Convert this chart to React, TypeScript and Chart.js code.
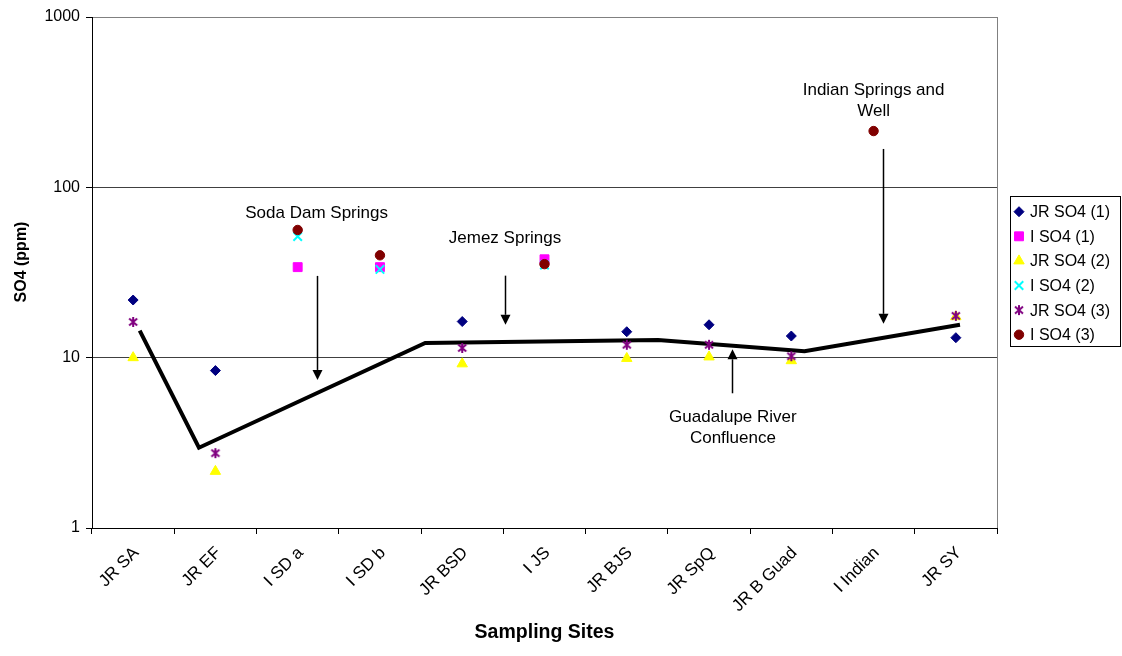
import React, { useEffect, useRef } from "react";
import { Chart, registerables } from "chart.js";
import { drawPoint } from "chart.js/helpers";

Chart.register(...registerables);

const FONT = "'Liberation Sans', Arial, Helvetica, sans-serif";

// Sampling sites along the river (category axis)
const sites = ["JR SA", "JR EF", "I SD a", "I SD b", "JR BSD", "I JS", "JR BJS", "JR SpQ", "JR B Guad", "I Indian", "JR SY"];

// SO4 concentrations (ppm), one value per site, null where not sampled
const jrSo4Run1: (number | null)[] = [21.8, 8.4, null, null, 16.3, null, 14.2, 15.6, 13.4, null, 13.1];
const iSo4Run1: (number | null)[] = [null, null, 34, 34, null, 37.8, null, null, null, null, null];
const jrSo4Run2: (number | null)[] = [10.0, 2.15, null, null, 9.2, null, 9.9, 10.1, 9.6, null, 17.4];
const iSo4Run2: (number | null)[] = [null, null, 51.4, 33, null, 35, null, null, null, null, null];
const jrSo4Run3: (number | null)[] = [16.2, 2.75, null, null, 11.4, null, 11.9, 11.9, 10.2, null, 17.6];
const iSo4Run3: (number | null)[] = [null, null, 56.2, 39.9, null, 35.4, null, null, null, 214, null];

// River trend line: position in site-index units and SO4 (ppm)
const trendSite = [0.08, 0.8, 3.55, 6.38, 8.16, 10.05];
const trendSo4 = [14.4, 2.96, 12.2, 12.7, 10.9, 15.6];

// Y axis decades
const yTicks = [1, 10, 100, 1000];

// Callout labels with arrows (x in site-index units, y in ppm)
const callouts = [
  { lines: ["Soda Dam Springs"], textX: 2.23, textY: 70.7, arrowX: 2.23, tail: 30.2, tip: 7.4 },
  { lines: ["Jemez Springs"], textX: 4.52, textY: 50.5, arrowX: 4.52, tail: 30.3, tip: 15.6 },
  { lines: ["Indian Springs and", "Well"], textX: 9.0, textY: 373, arrowX: 9.11, tail: 168, tip: 15.8 },
  { lines: ["Guadalupe River", "Confluence"], textX: 7.29, textY: 4.47, arrowX: 7.28, tail: 6.18, tip: 11.2 },
];

function makeStar(color: string): HTMLCanvasElement {
  const c = document.createElement("canvas");
  c.width = 12;
  c.height = 12;
  const g = c.getContext("2d")!;
  g.strokeStyle = color;
  g.lineWidth = 2;
  g.beginPath();
  g.moveTo(2, 2.5);
  g.lineTo(10, 9.5);
  g.moveTo(10, 2.5);
  g.lineTo(2, 9.5);
  g.moveTo(6, 1);
  g.lineTo(6, 11);
  g.stroke();
  return c;
}

type SeriesStyle = { pointStyle: any; color: string; radius: number; borderWidth: number };

function buildSeries() {
  const labels = ["JR SO4 (1)", "I SO4 (1)", "JR SO4 (2)", "I SO4 (2)", "JR SO4 (3)", "I SO4 (3)"];
  const values = [jrSo4Run1, iSo4Run1, jrSo4Run2, iSo4Run2, jrSo4Run3, iSo4Run3];
  const styles: SeriesStyle[] = [
    { pointStyle: "rectRot", color: "#000080", radius: 5, borderWidth: 1 },
    { pointStyle: "rect", color: "#FF00FF", radius: 6.3, borderWidth: 1 },
    { pointStyle: "triangle", color: "#FFFF00", radius: 6, borderWidth: 1 },
    { pointStyle: "crossRot", color: "#00FFFF", radius: 6, borderWidth: 2 },
    { pointStyle: makeStar("#800080"), color: "#800080", radius: 6, borderWidth: 2 },
    { pointStyle: "circle", color: "#800000", radius: 4.7, borderWidth: 1 },
  ];
  return labels.map((label, i) => ({ label, data: values[i], ...styles[i] }));
}

const decorations = {
  id: "decorations",
  beforeDatasetsDraw(chart: any) {
    const { ctx, chartArea: a } = chart;
    ctx.save();
    ctx.strokeStyle = "#808080";
    ctx.lineWidth = 1;
    ctx.beginPath();
    ctx.moveTo(Math.round(a.right) + 0.5, a.top);
    ctx.lineTo(Math.round(a.right) + 0.5, a.bottom);
    ctx.stroke();
    ctx.restore();
  },
  afterDraw(chart: any) {
    const { ctx, chartArea: a } = chart;
    const xs = chart.scales.xt;
    const ys = chart.scales.y;
    ctx.save();

    // callouts
    ctx.fillStyle = "#000";
    ctx.strokeStyle = "#000";
    ctx.font = `17px ${FONT}`;
    ctx.textAlign = "center";
    ctx.textBaseline = "middle";
    for (const c of callouts) {
      const tx = xs.getPixelForValue(c.textX);
      const ty = ys.getPixelForValue(c.textY);
      c.lines.forEach((ln, i) => ctx.fillText(ln, tx, ty + i * 21));
      const ax = Math.round(xs.getPixelForValue(c.arrowX)) + 0.5;
      const y0 = ys.getPixelForValue(c.tail);
      const y1 = ys.getPixelForValue(c.tip);
      const dir = Math.sign(y1 - y0);
      const head = 10;
      ctx.lineWidth = 1.5;
      ctx.beginPath();
      ctx.moveTo(ax, y0);
      ctx.lineTo(ax, y1 - dir * head);
      ctx.stroke();
      ctx.beginPath();
      ctx.moveTo(ax, y1);
      ctx.lineTo(ax - 5, y1 - dir * head);
      ctx.lineTo(ax + 5, y1 - dir * head);
      ctx.closePath();
      ctx.fill();
    }

    // axis titles
    ctx.font = `bold 16px ${FONT}`;
    ctx.save();
    ctx.translate(22, 262);
    ctx.rotate(-Math.PI / 2);
    ctx.fillText("SO4 (ppm)", 0, 0);
    ctx.restore();
    ctx.font = `bold 19.5px ${FONT}`;
    ctx.fillText("Sampling Sites", (a.left + a.right) / 2, 633);

    // legend
    const series = chart.data.datasets.filter((d: any) => d.legendItem);
    const boxX = 1010.5, boxY = 196.5, boxW = 110, boxH = 150;
    ctx.fillStyle = "#fff";
    ctx.fillRect(boxX, boxY, boxW, boxH);
    ctx.strokeStyle = "#000";
    ctx.lineWidth = 1;
    ctx.strokeRect(boxX, boxY, boxW, boxH);
    ctx.font = `16px ${FONT}`;
    ctx.textAlign = "left";
    series.forEach((d: any, i: number) => {
      const y = 211.7 + i * 24.6;
      ctx.fillStyle = d.pointBackgroundColor;
      ctx.strokeStyle = d.pointBorderColor;
      ctx.lineWidth = d.pointBorderWidth;
      drawPoint(ctx, { pointStyle: d.pointStyle, rotation: 0, radius: d.pointRadius, borderWidth: d.pointBorderWidth }, 1019, y);
      ctx.fillStyle = "#000";
      ctx.fillText(d.label, 1030, y + 1);
    });
    ctx.restore();
  },
};

export default function App() {
  const ref = useRef<HTMLCanvasElement>(null);

  useEffect(() => {
    const canvas = ref.current!;
    const series = buildSeries();
    const markerSets = series.map((s, i) => ({
      type: "line" as const,
      label: s.label,
      data: s.data,
      showLine: false,
      xAxisID: "x",
      yAxisID: "y",
      pointStyle: s.pointStyle,
      pointRadius: s.radius,
      pointBackgroundColor: s.color,
      pointBorderColor: s.color,
      pointBorderWidth: s.borderWidth,
      borderColor: s.color,
      backgroundColor: s.color,
      order: 10 - i,
      legendItem: true,
    }));
    const trendSet = {
      type: "line" as const,
      label: "trend",
      data: trendSite.map((x, i) => ({ x, y: trendSo4[i] })),
      xAxisID: "xt",
      yAxisID: "y",
      borderColor: "#000",
      borderWidth: 4,
      pointRadius: 0,
      fill: false,
      tension: 0,
      order: 30,
    };

    const chart = new Chart(canvas, {
      type: "line",
      data: { labels: sites, datasets: [...markerSets, trendSet] as any },
      options: {
        responsive: false,
        animation: false,
        devicePixelRatio: 1,
        layout: { padding: { left: 0, top: 17, right: 125, bottom: 0 } },
        plugins: { legend: { display: false }, tooltip: { enabled: false } },
        font: { family: FONT },
        scales: {
          x: {
            type: "category",
            offset: true,
            grid: { offset: true, drawOnChartArea: false, tickLength: 6, color: "#000", tickColor: "#000" },
            border: { color: "#000", width: 1 },
            ticks: {
              minRotation: 45,
              maxRotation: 45,
              autoSkip: false,
              color: "#000",
              font: { family: FONT, size: 17 },
              padding: 9,
              labelOffset: 3,
            },
            afterFit(scale: any) {
              scale.height = 128;
            },
          },
          xt: {
            type: "linear",
            display: false,
            min: -0.5,
            max: 10.5,
          },
          y: {
            type: "logarithmic",
            min: 1,
            max: 1000,
            afterBuildTicks(scale: any) {
              scale.ticks = yTicks.map((v) => ({ value: v }));
            },
            grid: {
              color: (c: any) => (c.tick && c.tick.value === 1000 ? "#808080" : "#404040"),
              tickColor: "#000",
              tickLength: 6,
              lineWidth: 1,
            },
            border: { color: "#000", width: 1 },
            ticks: {
              color: "#000",
              font: { family: FONT, size: 16 },
              padding: 6,
              callback: (v: any) => String(v),
            },
            afterFit(scale: any) {
              scale.width = 92;
            },
          },
        },
      } as any,
      plugins: [decorations],
    });
    return () => chart.destroy();
  }, []);

  return (
    <canvas
      ref={ref}
      width={1122}
      height={656}
      style={{ position: "absolute", left: 0, top: 0, display: "block", width: 1122, height: 656 }}
    />
  );
}
